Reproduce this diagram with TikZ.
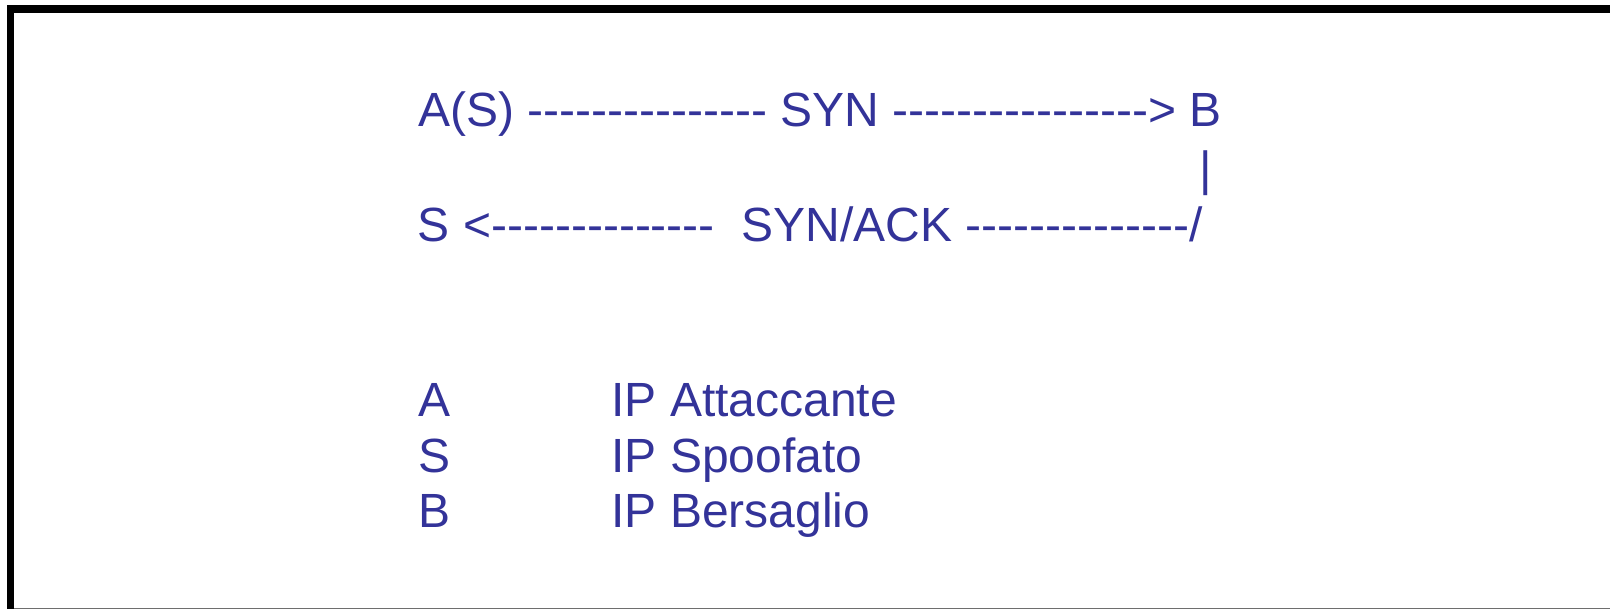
\documentclass[tikz,border=0pt]{standalone}
\usepackage{fontspec}
\setmainfont{Liberation Sans}[Ligatures=TeXOff]
\definecolor{txtblue}{RGB}{51,51,153}
\definecolor{edgegray}{RGB}{110,110,110}
\begin{document}
\begin{tikzpicture}[x=1pt,y=-1pt,
  txt/.style={anchor=base west, inner sep=0pt, outer sep=0pt, text=txtblue,
              font=\fontsize{48}{57}\selectfont}]
\useasboundingbox (0,0) rectangle (1610,610);
\fill[white] (0,0) rectangle (1610,610);
% frame
\fill[black] (6.7,5) rectangle (1610,13.3);
\fill[black] (6.7,5) rectangle (14.3,609);
\draw[edgegray, line width=1.2pt] (14.3,608.4) -- (1610,608.4);
% handshake lines
\node[txt] (syn) at (418.4,126.7) {A(S) --------------- SYN ----------------> B};
\node[txt] (bar) at (1199.4,185) {|};
\node[txt] (synack) at (417.8,241.3) {S <--------------\ \ SYN/ACK --------------/};
% legend
\node[txt] (la) at (418.2,416.5) {A};
\node[txt] (ls) at (418.2,472) {S};
\node[txt] (lb) at (418.2,527.5) {B};
\node[txt] (da) at (611.5,416.5) {IP Attaccante};
\node[txt] (ds) at (611.5,472) {IP Spoofato};
\node[txt] (db) at (611.5,527.5) {IP Bersaglio};
\end{tikzpicture}
\end{document}
